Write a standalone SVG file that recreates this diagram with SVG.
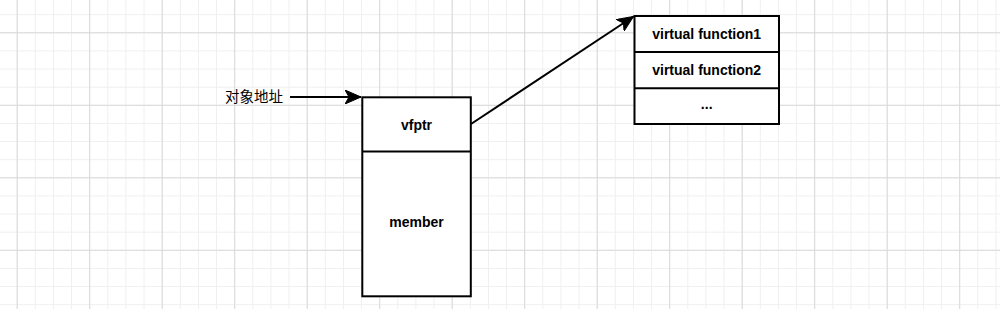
<svg xmlns="http://www.w3.org/2000/svg" width="1000" height="309" viewBox="0 0 1000 309">
<style>
.box{fill:#ffffff;stroke:#000000;stroke-width:2}
.div{stroke:#000000;stroke-width:2;fill:none}
.lbl{font-family:"Liberation Sans",Arial,sans-serif;font-size:14px;font-weight:bold;fill:#000000;text-anchor:middle;dominant-baseline:central}
.cn{font-family:"Liberation Sans","Noto Sans CJK SC",sans-serif;font-size:14.5px;fill:#000000;text-anchor:end;dominant-baseline:central}
.edge{stroke:#000000;stroke-width:2;fill:none}
</style>
<defs>
<pattern id="minor" x="16.7" y="14.2" width="18.125" height="18.125" patternUnits="userSpaceOnUse">
<path d="M0.5,0 V18.125 M0,0.5 H18.125" stroke="#efefef" stroke-width="1" fill="none"/>
</pattern>
<pattern id="major" x="16.7" y="32.3" width="72.5" height="72.5" patternUnits="userSpaceOnUse">
<path d="M0.5,0 V72.5 M0,0.5 H72.5" stroke="#d9d9d9" stroke-width="1" fill="none"/>
</pattern>
<marker id="arr" markerUnits="userSpaceOnUse" markerWidth="17" markerHeight="14" refX="16" refY="7" orient="auto" viewBox="0 0 17 14">
<path d="M0,0 L16,7 L0,14 L4,7 Z" fill="#000000" stroke="#000000" stroke-width="1"/>
</marker>
</defs>
<rect width="1000" height="309" fill="#ffffff"/>
<rect width="1000" height="309" fill="url(#minor)"/>
<rect width="1000" height="309" fill="url(#major)"/>

<g id="connectors">
<path class="edge" d="M290,97 H361" marker-end="url(#arr)"/>
<path class="edge" d="M471,124 L633.5,16.5" marker-end="url(#arr)"/>
</g>

<g id="label-address">
<text class="cn" x="283" y="97">对象地址</text>
</g>

<g id="object">
<rect class="box" x="362.3" y="97.3" width="108.5" height="199"/>
<line class="div" x1="362.3" y1="151.5" x2="470.8" y2="151.5"/>
<text class="lbl" x="416.5" y="124.5">vfptr</text>
<text class="lbl" x="416.5" y="222">member</text>
</g>

<g id="vtable">
<rect class="box" x="634.5" y="16" width="144.5" height="108"/>
<line class="div" x1="634.5" y1="52" x2="779" y2="52"/>
<line class="div" x1="634.5" y1="88.3" x2="779" y2="88.3"/>
<text class="lbl" x="706.7" y="33.5">virtual function1</text>
<text class="lbl" x="706.7" y="70">virtual function2</text>
<text class="lbl" x="706.7" y="104">...</text>
</g>
</svg>
